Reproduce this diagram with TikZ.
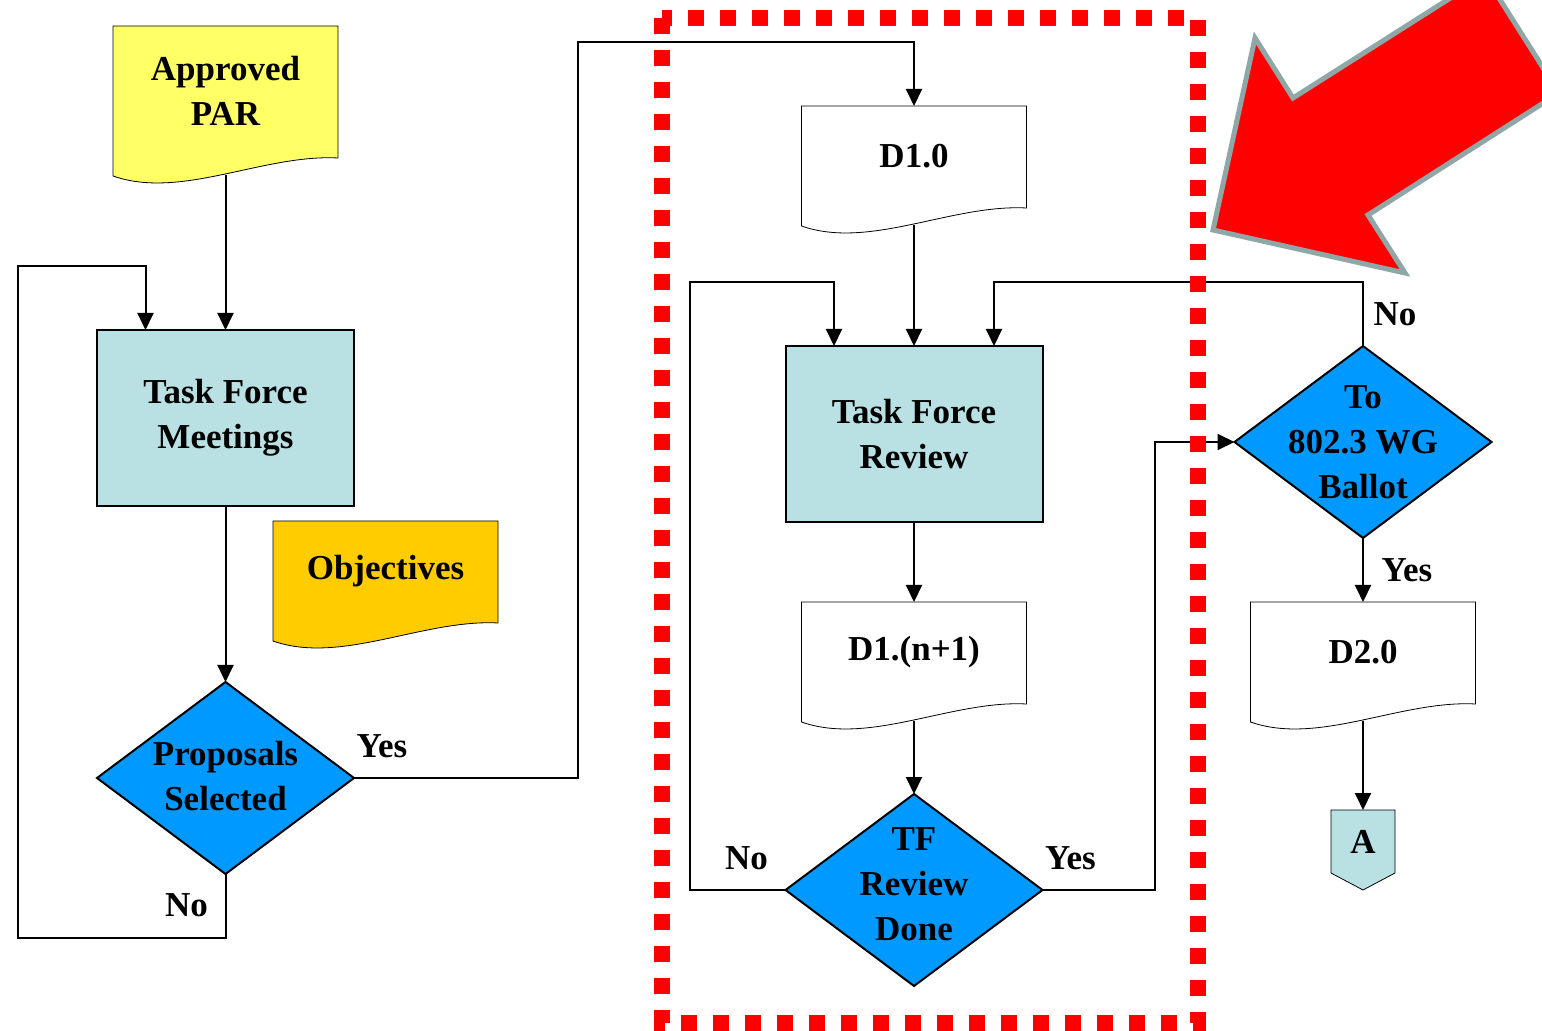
\documentclass[tikz,border=0pt]{standalone}
\usepackage{fontspec}
\setmainfont{Liberation Serif}
\usepackage{tikz}
\usetikzlibrary{arrows.meta,shapes.geometric,positioning,backgrounds}

\definecolor{tfblue}{RGB}{185,224,227}
\definecolor{decblue}{RGB}{0,153,255}
\definecolor{paryellow}{RGB}{255,255,102}
\definecolor{objorange}{RGB}{255,204,0}
\definecolor{arrowgray}{RGB}{143,167,167}

% wavy outline under a document node
\newcommand{\docoutline}[2]{%
  \begin{scope}[on background layer]
    \draw[fill=#2] (#1.north west) -- (#1.north east) -- ([yshift=-1pt]#1.south east)
      .. controls ([xshift=75pt,yshift=1pt]#1.south west) and ([xshift=34pt,yshift=-22pt]#1.south west)
      .. ([yshift=-10pt]#1.south west) -- cycle;
  \end{scope}
  \coordinate (#1-b) at ([yshift=-9.5pt]#1.south);}

\begin{document}
\begin{tikzpicture}[
        x=0.5pt, y=-0.5pt, line width=1pt,
        every node/.style={font=\fontsize{17.5}{22.5}\selectfont\bfseries, align=center},
        process/.style={rectangle, draw, fill=tfblue, minimum width=128.5pt, minimum height=88pt, outer sep=0pt},
        decision/.style={diamond, draw, fill=decblue, minimum width=128.5pt, minimum height=96pt, inner sep=0pt, outer sep=0pt},
        doc/.style={rectangle, minimum width=112.5pt, minimum height=50pt, outer sep=0pt},
        dtext/.style={inner sep=0pt},
        lbl/.style={inner sep=0pt},
        arr/.style={-{Triangle[width=8pt,length=8.5pt]}}
    ]
    \clip (0,0) rectangle (1542,1031);

    % Nodes
    \node (par) [doc, minimum height=65pt] at (225.5,91) {Approved\\PAR};
    \docoutline{par}{paryellow}
    \node (tfm) [process, below=87pt of par] {Task Force\\Meetings};
    \node (psel) [decision, below=88pt of tfm] {};
    \node (psel-t) [dtext, yshift=1pt] at (psel) {Proposals\\Selected};
    \node (obj) [doc, below right=7.5pt and -40.5pt of tfm] {Objectives};
    \docoutline{obj}{objorange}

    \node (d10) [doc] at (914,156) {D1.0};
    \docoutline{d10}{white}
    \node (tfr) [process, below=70pt of d10] {Task Force\\Review};
    \node (dn1) [doc, below=40pt of tfr] {D1.(n+1)};
    \docoutline{dn1}{white}
    \node (tfd) [decision, below=46pt of dn1] {};
    \node (tfd-t) [dtext, yshift=3pt] at (tfd) {TF\\Review\\Done};

    \node (ballot) [decision, right=96pt of tfr, yshift=-4pt] {};
    \node (ballot-t) [dtext] at (ballot) {To\\802.3 WG\\Ballot};
    \node (d20) [doc, below=32pt of ballot] {D2.0};
    \docoutline{d20}{white}
    \node (conA) [rectangle, minimum width=32pt, minimum height=31.5pt, outer sep=0pt, below=54pt of d20] {A};
    \begin{scope}[on background layer]
      \draw[fill=tfblue] (conA.north west) -- (conA.north east) -- (conA.south east)
        -- ([yshift=-8.5pt]conA.south) -- (conA.south west) -- cycle;
    \end{scope}

    % Labels
    \node (psel-yes) [lbl] at ([xshift=14pt,yshift=16pt]psel.east) {Yes};
    \node (psel-no) [lbl] at ([xshift=-19.5pt,yshift=-15.5pt]psel.south) {No};
    \node (tfd-no) [lbl] at ([xshift=-19.5pt,yshift=16pt]tfd.west) {No};
    \node (tfd-yes) [lbl] at ([xshift=14pt,yshift=16pt]tfd.east) {Yes};
    \node (ballot-no) [lbl] at ([xshift=16pt,yshift=16pt]ballot.north) {No};
    \node (ballot-yes) [lbl] at ([xshift=22pt,yshift=-16pt]ballot.south) {Yes};

    % Edges
    \draw[arr] (par-b) -- (tfm.north);
    \draw[arr] (tfm) -- (psel);
    \draw[arr] (psel.south) -- ++(0,64) -- ++(-208,0) -- ++(0,-672) -| ([xshift=-40pt]tfm.north);
    \draw[arr] (psel.east) -| ++(224,-736) -| (d10.north);
    \draw[arr] (d10-b) -- (tfr.north);
    \draw[arr] (tfr) -- (dn1);
    \draw[arr] (dn1-b) -- (tfd.north);
    \draw[arr] (tfd.west) -- ++(-96,0) -- ++(0,-608) -| ([xshift=-40pt]tfr.north);
    \draw[arr] (tfd.east) -- ++(112,0) |- (ballot.west);
    \draw[arr] (ballot.north) -- ++(0,-64) -| ([xshift=40pt]tfr.north);
    \draw[arr] (ballot) -- (d20);
    \draw[arr] (d20-b) -- (conA.north);

    % Highlight
    \draw[red, line width=8pt, dash pattern=on 8pt off 8pt] (662,18) rectangle (1198,1023);
    \draw[arrowgray, fill=red, line width=2.5pt] (1213,230) -- (1255,38) -- (1293,98) -- (1485,-24)
      -- (1559,93) -- (1368,215) -- (1405,273) -- cycle;

\end{tikzpicture}
\end{document}
